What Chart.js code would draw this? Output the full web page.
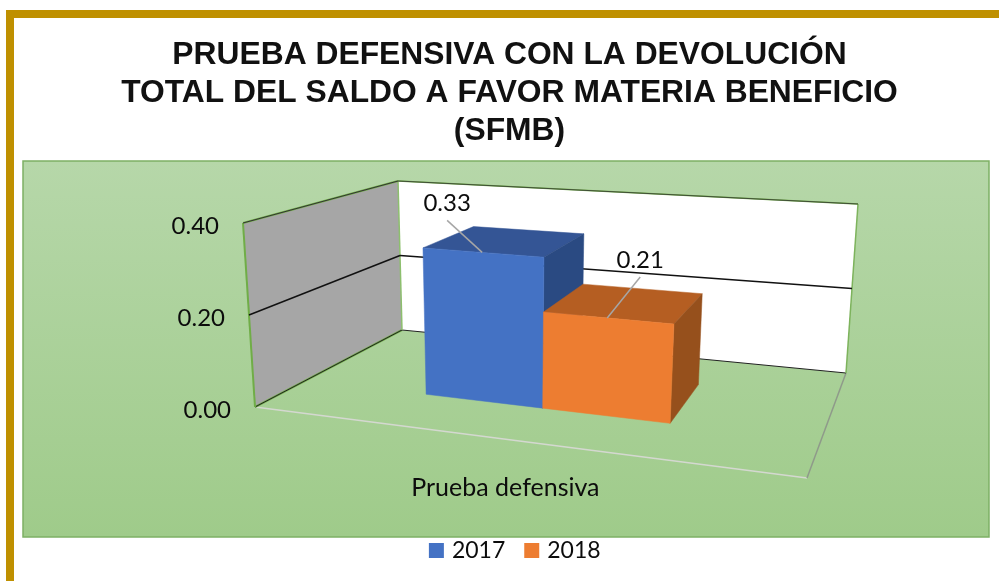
<!DOCTYPE html>
<html>
<head>
<meta charset="utf-8">
<style>html,body{margin:0;padding:0;background:#fff;overflow:hidden}canvas{display:block}</style>
<script src="https://cdn.jsdelivr.net/npm/chart.js@4/dist/chart.umd.min.js"></script>
</head>
<body>
<canvas id="c" width="999" height="581"></canvas>
<script>
const titleLines = ["PRUEBA DEFENSIVA CON LA DEVOLUCIÓN", "TOTAL DEL SALDO A FAVOR MATERIA BENEFICIO", "(SFMB)"];
const categories = ["Prueba defensiva"];
const years = ["2017", "2018"];
const values2017 = [0.33];
const values2018 = [0.21];
const yTicks = [0, 0.2, 0.4];

const TEXT = '#0c0c0c';
const FONT = 'Lato';
const faces = [
  {front: '#4472C4', top: '#345595', side: '#2A4A82', lead: [-35, -32]},
  {front: '#ED7D31', top: '#B55E22', side: '#96501C', lead: [33, -41]}
];

// Room of the 3D view: floor and ceiling corners (fl, fr = front, bl, br = back)
const floor = {fl: [255, 407], fr: [807, 478], bl: [402, 330], br: [846, 373]};
const ceil  = {fl: [243, 223], fr: [822, 267], bl: [398, 181], br: [858, 204]};
const PERSPECTIVE = 0.83, SHIFT = 0.006, D0 = 0.35, D1 = 0.75;

function bil(q, u, d) {
  const l = [q.fl[0] + (q.bl[0] - q.fl[0]) * d, q.fl[1] + (q.bl[1] - q.fl[1]) * d];
  const r = [q.fr[0] + (q.br[0] - q.fr[0]) * d, q.fr[1] + (q.br[1] - q.fr[1]) * d];
  return [l[0] + (r[0] - l[0]) * u, l[1] + (r[1] - l[1]) * u];
}
function project(r, h, d) {
  const u = r * PERSPECTIVE / (1 + (PERSPECTIVE - 1) * r);
  const a = bil(floor, u, d), b = bil(ceil, u, d);
  return [a[0] + (b[0] - a[0]) * h, a[1] + (b[1] - a[1]) * h];
}
function poly(ctx, pts, fill, stroke, lw) {
  ctx.beginPath();
  pts.forEach((p, i) => i ? ctx.lineTo(p[0], p[1]) : ctx.moveTo(p[0], p[1]));
  ctx.closePath();
  if (fill) { ctx.fillStyle = fill; ctx.fill(); }
  if (stroke) { ctx.strokeStyle = stroke; ctx.lineWidth = lw || 1; ctx.stroke(); }
}
function seg(ctx, a, b, color, lw) {
  ctx.beginPath(); ctx.moveTo(a[0], a[1]); ctx.lineTo(b[0], b[1]);
  ctx.strokeStyle = color; ctx.lineWidth = lw; ctx.stroke();
}

const room = {
  id: 'room',
  afterLayout(chart) {
    chart.legend.left += 7;
    chart.legend.right += 7;
  },
  beforeDraw(chart) {
    const ctx = chart.ctx;
    ctx.save();
    ctx.fillStyle = '#fff';
    ctx.fillRect(0, 0, chart.width, chart.height);
    // gold frame
    ctx.fillStyle = '#BF9000';
    ctx.fillRect(6, 10, chart.width - 6, 8);
    ctx.fillRect(6, 10, 8, chart.height - 10);
    // green panel
    const g = ctx.createLinearGradient(0, 161, 0, 537);
    g.addColorStop(0, '#B6D7A9');
    g.addColorStop(1, '#9FCB8A');
    ctx.fillStyle = g;
    ctx.fillRect(23, 161, 966, 376);
    ctx.strokeStyle = '#7DB064';
    ctx.lineWidth = 1.5;
    ctx.strokeRect(23, 161, 966, 376);
    ctx.restore();
  },
  beforeDatasetsDraw(chart) {
    const ctx = chart.ctx, ys = chart.scales.y, xs = chart.scales.x;
    ctx.save();
    const lf = project(0, 0, 0), lb = project(0, 0, 1), rb = project(1, 0, 1), rf = project(1, 0, 0);
    const tf = project(0, 1, 0), tb = project(0, 1, 1), tr = project(1, 1, 1);
    poly(ctx, [lf, tf, tb, lb], '#A6A6A6');
    poly(ctx, [lb, tb, tr, rb], '#FFFFFF');
    // floor edges
    seg(ctx, lf, rf, '#D4D8D0', 1.5);
    seg(ctx, rf, rb, '#8F9A8A', 1.5);
    // wall edges
    seg(ctx, lf, lb, '#70AD47', 2);
    seg(ctx, lf, lb, '#222', 1);
    seg(ctx, lb, rb, '#222', 1);
    seg(ctx, lf, tf, '#70AD47', 2);
    seg(ctx, tb, lb, '#8DBF6E', 1.5);
    seg(ctx, rb, tr, '#7DB35C', 1.5);
    seg(ctx, tf, tb, '#70AD47', 2);
    seg(ctx, tf, tb, '#333', 1);
    seg(ctx, tb, tr, '#70AD47', 1.5);
    seg(ctx, tb, tr, '#333', 0.8);
    // gridlines and tick labels from the y scale
    ctx.font = '24px ' + FONT;
    ctx.textAlign = 'right';
    ctx.textBaseline = 'middle';
    ctx.fillStyle = TEXT;
    ys.ticks.forEach(t => {
      const h = (ys.bottom - ys.getPixelForValue(t.value)) / ys.height;
      const p = project(0, h, 0);
      if (h > 0 && h < 1) {
        const q = project(0, h, 1);
        seg(ctx, p, q, '#111', 1.5);
        seg(ctx, q, project(1, h, 1), '#111', 1.5);
      }
      ctx.fillText(t.label, p[0] - 24, p[1] + 3);
    });
    // category label
    ctx.font = '25px ' + FONT;
    ctx.textAlign = 'center';
    categories.forEach((c, i) => {
      const r = (xs.getPixelForValue(i) - xs.left) / xs.width;
      const p = project(r, 0, 0);
      ctx.fillText(c, p[0], p[1] + 49);
    });
    // the bars, back to front in dataset order
    chart.data.datasets.forEach((ds, i) => {
      const f = faces[i];
      chart.getDatasetMeta(i).data.forEach(el => {
        const r0 = (el.x - el.width / 2 - xs.left) / xs.width + SHIFT;
        const r1 = (el.x + el.width / 2 - xs.left) / xs.width + SHIFT;
        const h = (el.base - el.y) / ys.height;
        const a = project(r0, 0, D0), b = project(r1, 0, D0), c = project(r1, h, D0), e = project(r0, h, D0);
        const b2 = project(r1, 0, D1), c2 = project(r1, h, D1), e2 = project(r0, h, D1);
        poly(ctx, [e, c, c2, e2], f.top, f.top, 0.5);
        poly(ctx, [b, c, c2, b2], f.side, f.side, 0.5);
        poly(ctx, [a, b, c, e], f.front, f.front, 0.5);
      });
    });
    ctx.restore();
  },
  beforeDatasetDraw() {
    return false;
  },
  afterDatasetsDraw(chart) {
    const ctx = chart.ctx, xs = chart.scales.x, ys = chart.scales.y;
    ctx.save();
    chart.data.datasets.forEach((ds, i) => {
      chart.getDatasetMeta(i).data.forEach((el, j) => {
        const r = (el.x - xs.left) / xs.width + SHIFT;
        const h = (el.base - el.y) / ys.height;
        const end = project(r, h, D0);
        const start = [end[0] + faces[i].lead[0], end[1] + faces[i].lead[1]];
        seg(ctx, start, end, '#A6A6A6', 1.5);
        ctx.font = '24px ' + FONT;
        ctx.fillStyle = TEXT;
        ctx.textAlign = 'center';
        ctx.textBaseline = 'middle';
        ctx.fillText(ds.data[j].toFixed(2), start[0], start[1] - 17);
      });
    });
    ctx.restore();
  }
};

new Chart(document.getElementById('c'), {
  type: 'bar',
  data: {
    labels: categories,
    datasets: [
      {label: years[0], data: values2017, backgroundColor: faces[0].front, borderColor: faces[0].front, borderWidth: 7},
      {label: years[1], data: values2018, backgroundColor: faces[1].front, borderColor: faces[1].front, borderWidth: 7}
    ]
  },
  options: {
    responsive: false,
    animation: false,
    devicePixelRatio: 1,
    layout: {padding: {left: 20, right: 0, top: 0, bottom: 9}},
    datasets: {bar: {categoryPercentage: 0.4767, barPercentage: 1}},
    scales: {
      x: {
        grid: {display: false}, border: {display: false},
        ticks: {display: false},
        afterFit(s) { s.height = 96; }
      },
      y: {
        min: 0, max: 0.4,
        grid: {display: false}, border: {display: false},
        ticks: {
          display: false,
          callback: v => v.toFixed(2)
        },
        afterBuildTicks(s) { s.ticks = yTicks.map(v => ({value: v})); },
        afterFit(s) { s.width = 235; }
      }
    },
    plugins: {
      title: {
        display: true,
        text: titleLines,
        color: '#111',
        font: {family: 'Liberation Sans', size: 31.8, weight: 'bold', lineHeight: 38 / 31.8},
        padding: {top: 36, bottom: 75}
      },
      legend: {
        position: 'bottom',
        labels: {
          boxWidth: 8, boxHeight: 8, padding: 22.5,
          color: TEXT,
          font: {family: FONT, size: 23}
        }
      },
      tooltip: {enabled: false}
    }
  },
  plugins: [room]
});
</script>
</body>
</html>
